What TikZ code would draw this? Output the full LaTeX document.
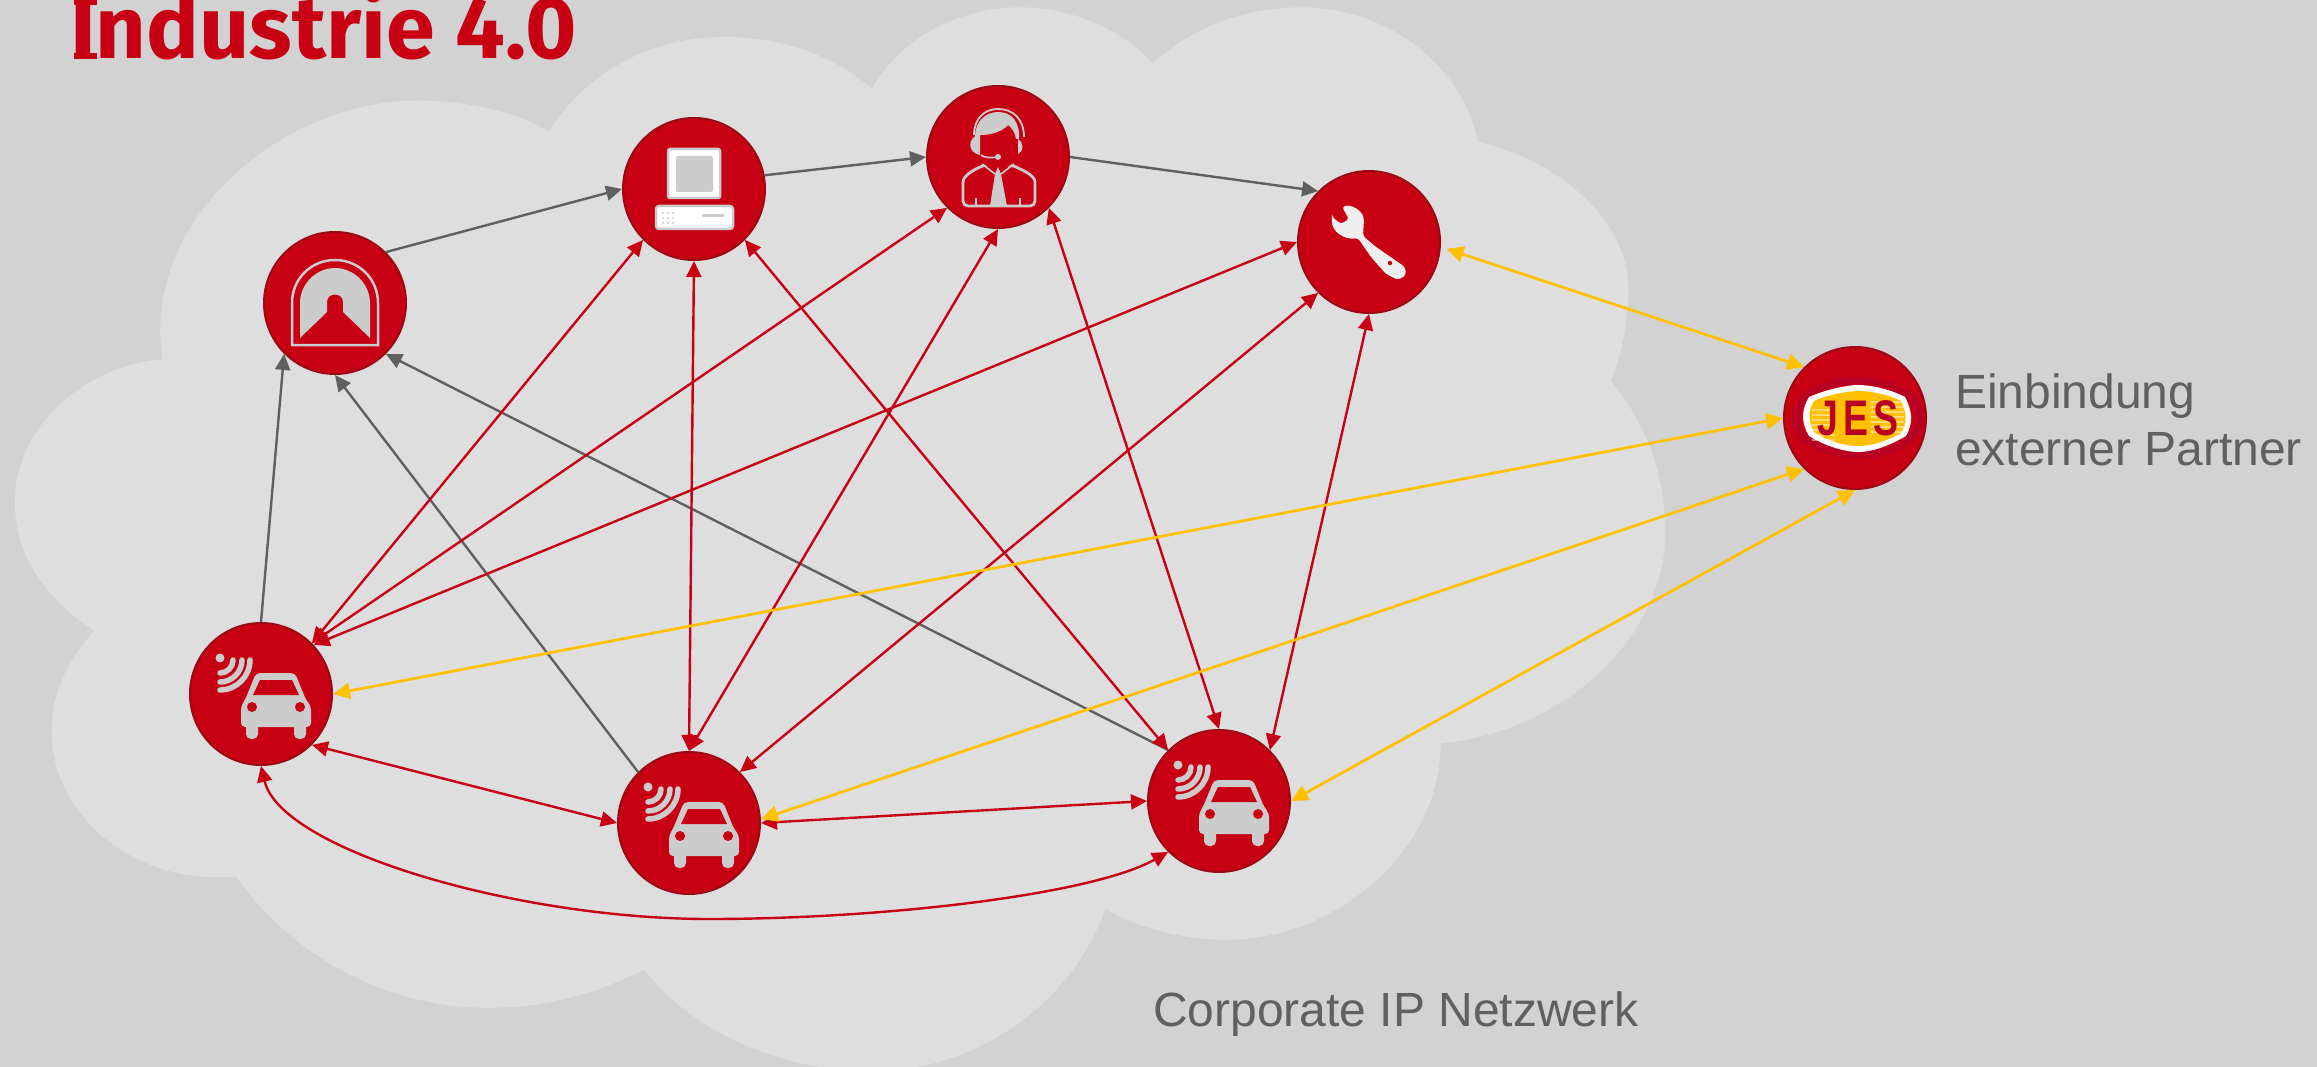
\documentclass[tikz,border=0pt]{standalone}
\usepackage{fontspec}
\usetikzlibrary{arrows.meta}
\setmainfont{Liberation Sans}
\newfontfamily\titlefont{Fira Sans}
\newfontfamily\jesfont[FakeStretch=0.75]{Liberation Sans}
\definecolor{bgc}{HTML}{D2D2D2}
\definecolor{cloudc}{HTML}{DEDEDE}
\definecolor{redc}{HTML}{C80014}
\definecolor{rimc}{HTML}{9A0A14}
\definecolor{greyc}{HTML}{5F6060}
\definecolor{yelc}{HTML}{FFC000}
\definecolor{iconc}{HTML}{CCCCCC}
\definecolor{wrenchc}{HTML}{EEEEEE}
\definecolor{jesdark}{HTML}{B80022}
\tikzset{
  hub/.style={circle,minimum size=142pt,inner sep=0pt,draw=rimc,fill=redc,line width=2pt},
  greyarrow/.style={draw=greyc,line width=2.4pt,-{Triangle[length=16pt,width=15pt]}},
  redarrow/.style={draw=redc,line width=2.4pt,{Triangle[length=16pt,width=15pt]}-{Triangle[length=16pt,width=15pt]}},
  yelarrow/.style={draw=yelc,line width=2.8pt,{Triangle[length=17pt,width=16pt]}-{Triangle[length=17pt,width=16pt]}},
  caption/.style={text=greyc,font=\fontsize{48}{58}\selectfont,anchor=base west,inner sep=0pt},
}
\newcommand{\caricon}[1]{%
\begin{scope}[shift={(#1.center)}]
  \fill[iconc] (-41,-36) circle (4.5pt);
  \foreach \rr in {13,22,30}{
    \draw[iconc,line width=5.5pt,line cap=round] ({-41+\rr},-34) .. controls ({-41+\rr},{-34+0.55*\rr}) and ({-41+0.55*\rr},{-34+\rr}) .. (-41,{-34+\rr});
  }
  \fill[iconc,rounded corners=5pt] (-15,28) rectangle (-3,45);
  \fill[iconc,rounded corners=5pt] (33,28) rectangle (45,45);
  \fill[iconc,rounded corners=4pt] (-20,33) -- (-20,12) -- (-16,6) -- (-5,-21) -- (34,-21) -- (45,6) -- (50,12) -- (50,33) -- cycle;
  \fill[redc] (-1,-14) -- (31,-14) -- (38,1) -- (-8,1) -- cycle;
  \fill[redc] (-9,13) circle (5pt);
  \fill[redc] (39,13) circle (5pt);
\end{scope}}
\begin{document}
\begin{tikzpicture}[x=1pt,y=-1pt]
\useasboundingbox (0,0) rectangle (2317,1067);
\fill[bgc] (0,0) rectangle (2317,1067);
% cloud
\begin{scope}[x=1.4777pt,y=-1.4777pt]
\fill[cloudc] (110,243) .. controls (95,150) and (190,68) .. (283,68)
 .. controls (315,68) and (350,76) .. (372,89)
 .. controls (395,50) and (440,25) .. (490,25)
 .. controls (530,25) and (565,38) .. (590,60)
 .. controls (610,25) and (650,5) .. (690,5)
 .. controls (725,5) and (760,20) .. (780,43)
 .. controls (805,20) and (840,5) .. (880,5)
 .. controls (940,5) and (990,45) .. (1000,96)
 .. controls (1055,108) and (1102,150) .. (1102,195)
 .. controls (1102,220) and (1097,240) .. (1090,258)
 .. controls (1113,285) and (1127,320) .. (1127,360)
 .. controls (1127,430) and (1060,495) .. (975,503)
 .. controls (975,575) and (905,636) .. (830,636)
 .. controls (800,636) and (770,628) .. (748,615)
 .. controls (725,680) and (660,725) .. (590,725)
 .. controls (525,725) and (465,695) .. (436,656)
 .. controls (405,672) and (370,682) .. (330,682)
 .. controls (260,682) and (195,645) .. (160,593)
 .. controls (95,600) and (35,555) .. (35,495)
 .. controls (35,470) and (45,447) .. (64,427)
 .. controls (30,405) and (10,375) .. (10,340)
 .. controls (10,290) and (55,248) .. (110,243) -- cycle;
\end{scope}
% hubs
\node[hub] (T) at (335,303) {};
\node[hub] (C) at (694,189) {};
\node[hub] (H) at (998,157) {};
\node[hub] (W) at (1369,242) {};
\node[hub] (J) at (1855,418) {};
\node[hub] (A) at (261,694) {};
\node[hub] (B) at (689,823) {};
\node[hub] (D) at (1219,801) {};
% texts
\node[text=redc,anchor=base west,inner sep=0pt,font=\titlefont\bfseries\fontsize{88}{100}\selectfont] (title) at (70,59) {Industrie 4.0};
\fill[redc] (74,53) rectangle (97,59);
\fill[redc] (74,0) rectangle (97,5);
\node[caption] (cap1) at (1955,408) {Einbindung};
\node[caption] (cap2) at (1955,465) {externer Partner};
\node[caption] (cap3) at (1153,1026) {Corporate IP Netzwerk};
% grey connectors
\draw[greyarrow] (T.45) -- (C.180);
\draw[greyarrow] (C.11) -- (H.180);
\draw[greyarrow] (H.0) -- (W.135);
\draw[greyarrow] (A.90) -- (T.225);
\draw[greyarrow] (B.135) -- (T.270);
\draw[greyarrow] (D.135) -- (T.-45);
% red connectors
\draw[redarrow] (A.45) -- (C.225);
\draw[redarrow] (A.45) -- (H.225);
\draw[redarrow] (A.43) -- (W.180);
\draw[redarrow] (B.90) -- (C.270);
\draw[redarrow] (B.90) -- (H.270);
\draw[redarrow] (B.45) -- (W.225);
\draw[redarrow] (D.135) -- (C.-45);
\draw[redarrow] (D.90) -- (H.-45);
\draw[redarrow] (D.45) -- (W.270);
\draw[redarrow] (A.-45) -- (B.180);
\draw[redarrow] (B.0) -- (D.180);
\coordinate (curvemid) at (709,919);
\draw[draw=redc,line width=2.4pt,{Triangle[length=16pt,width=15pt]}-] (A.270) .. controls (281,850) and (517,919) .. (curvemid);
\draw[draw=redc,line width=2.4pt,-{Triangle[length=16pt,width=15pt]}] (curvemid) .. controls (887,919) and (1094,894) .. (D.225);
% yellow connectors
\draw[yelarrow,shorten <=6pt] (W.-4) -- (J.135);
\draw[yelarrow] (A.0) -- (J.180);
\draw[yelarrow] (B.3) -- (J.225);
\draw[yelarrow] (D.0) -- (J.270);
% tunnel icon
\begin{scope}[shift={(T.center)}]
  \draw[iconc,line width=2.5pt] (-43,42) -- (-43,0) .. controls (-43,-24) and (-24,-43) .. (0,-43) .. controls (24,-43) and (43,-24) .. (43,0) -- (43,42) -- cycle;
  \fill[iconc] (-35,35) -- (-35,0) .. controls (-35,-19) and (-19,-35) .. (0,-35) .. controls (19,-35) and (35,-19) .. (35,0) -- (35,35) -- (8,9) -- (8,-1) .. controls (8,-11) and (-8,-11) .. (-8,-1) -- (-8,9) -- cycle;
\end{scope}
% computer icon
\begin{scope}[shift={(C.center)}]
  \fill[white,draw=iconc,line width=2.5pt,rounded corners=2pt] (-26,-40) rectangle (26,9);
  \fill[iconc,rounded corners=2pt] (-18,-33) rectangle (19,3);
  \fill[white,draw=iconc,line width=2.5pt,rounded corners=3pt] (-38,17) rectangle (39,40);
  \draw[iconc,line width=3pt,line cap=round] (9,27) -- (29,27);
  \foreach \dx in {-31,-26,-21}{\foreach \dy in {24,29,34}{\fill[iconc] (\dx,\dy) circle (1.1pt);}}
\end{scope}
% headset icon
\begin{scope}[shift={(H.center)}]
  \draw[iconc,line width=1.8pt] (-24,-22) .. controls (-24,-38) and (-14,-48) .. (0,-48) .. controls (15,-48) and (26,-38) .. (26,-20);
  \fill[iconc] (-23,-20) .. controls (-23,-36) and (-12,-45) .. (0,-45) .. controls (14,-45) and (22,-35) .. (21,-18) -- (18,-18) .. controls (17,-24) and (15,-28) .. (10,-32) .. controls (5,-26) and (-6,-22) .. (-17,-22) -- cycle;
  \fill[iconc] (-18,-23) .. controls (-31,-20) and (-31,-4) .. (-18,-2) -- cycle;
  \fill[iconc] (20,-18) .. controls (26,-15) and (26,-5) .. (20,-3) -- cycle;
  \draw[iconc,line width=1.6pt] (-17,-2) .. controls (-14,1) and (-6,1) .. (-1,0);
  \fill[iconc] (0,0) circle (3pt);
  \draw[iconc,line width=2.8pt,rounded corners=5pt] (-35,49) -- (-35,30) .. controls (-35,18) and (-22,12) .. (-14,8) -- (14,8) .. controls (22,12) and (37,18) .. (37,30) -- (37,49) -- cycle;
  \fill[redc] (-16,6) -- (-1,15) -- (16,6) -- (16,3) -- (-16,3) -- cycle;
  \draw[iconc,line width=1.6pt] (-16,7) -- (-3,17);
  \draw[iconc,line width=1.6pt] (16,7) -- (3,17);
  \fill[iconc] (0,10) -- (-3,17) -- (-8,49) -- (9,49) -- (3,17) -- cycle;
  \draw[iconc,line width=2pt] (-22,49) -- (-22,41);
  \draw[iconc,line width=2pt] (22,49) -- (22,41);
\end{scope}
% wrench icon
\begin{scope}[shift={(W.center)}]
  \fill[wrenchc,rounded corners=3pt] (-37,-25) -- (-28,-18) -- (-20,-23) -- (-27,-35) .. controls (-18,-38) and (-8,-32) .. (-5,-23) -- (-6,-6) -- (7,5) -- (36,25) -- (37,33) -- (29,38) -- (17,32) -- (2,15) -- (-11,-4) .. controls (-24,-2) and (-38,-10) .. (-37,-25) -- cycle;
  \fill[redc] (21,21) circle (2.2pt);
\end{scope}
% JES logo
\begin{scope}[shift={(J.center)}]
  \draw[jesdark,line width=8pt] (-59,0) .. controls (-59,-22) and (-30,-37) .. (3,-37) .. controls (36,-37) and (65,-22) .. (65,0) .. controls (65,22) and (36,37) .. (3,37) .. controls (-30,37) and (-59,22) .. (-59,0) -- cycle;
  \fill[white] (-46,-21) .. controls (-25,-30) and (-5,-33) .. (3,-33) .. controls (15,-33) and (35,-29) .. (50,-21) .. controls (58,-5) and (58,5) .. (51,18) .. controls (30,30) and (15,34) .. (3,34) .. controls (-10,34) and (-30,28) .. (-46,18) .. controls (-54,5) and (-54,-8) .. (-46,-21) -- cycle;
  \fill[yelc] (-41,-17) .. controls (-25,-24) and (-5,-27) .. (3,-27) .. controls (15,-27) and (32,-24) .. (46,-17) .. controls (52,-5) and (52,5) .. (46,15) .. controls (30,24) and (15,28) .. (3,28) .. controls (-10,28) and (-28,23) .. (-41,14) .. controls (-47,3) and (-47,-7) .. (-41,-17) -- cycle;
  \foreach \yy in {-16,-11,-6,-1,4,9,14}{
    \draw[white,opacity=.45,line width=1.2pt] (16,\yy) -- (49,\yy);
    \draw[white,opacity=.45,line width=1.2pt] (-43,{\yy+8}) -- (-20,{\yy+8});
  }
  \node[text=jesdark,inner sep=0pt,font=\jesfont\bfseries\fontsize{50}{60}\selectfont] (jestext) at (3,0) {J\kern5pt E\kern5pt S};
\end{scope}
% car icons
\caricon{A}
\caricon{B}
\caricon{D}
\end{tikzpicture}
\end{document}
